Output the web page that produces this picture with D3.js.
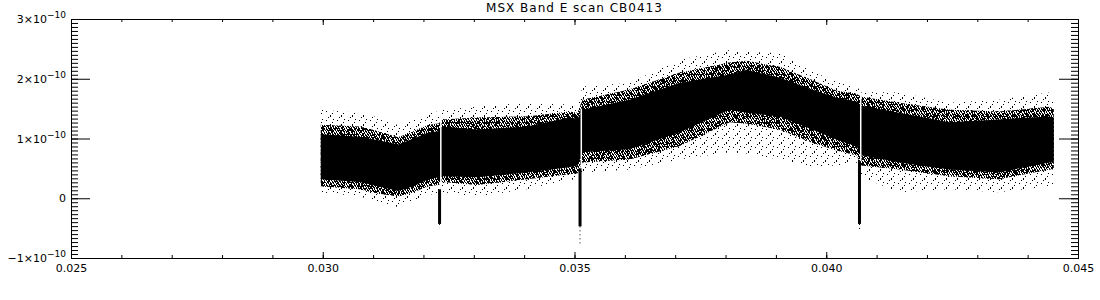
<!DOCTYPE html>
<html>
<head>
<meta charset="utf-8">
<script src="https://cdn.jsdelivr.net/npm/d3@7"></script>
<style>
  body { margin: 0; background: #fff; }
  svg { display: block; font-family: "DejaVu Sans", sans-serif; }
</style>
</head>
<body>
<svg width="1100" height="300"></svg>
<script>
// Valores (fluxo em unidades de 1e-10)
var unit = 1e-10;

var scanX    = [0.02996, 0.03073, 0.03110, 0.03150, 0.03180, 0.03210, 0.03230, 0.03238, 0.03306, 0.03405,
                0.03490, 0.03506, 0.03516, 0.03609, 0.03708, 0.03808, 0.03841, 0.03907, 0.03972, 0.04021,
                0.04060, 0.04070, 0.04145, 0.04244, 0.04343, 0.04443, 0.04452];
var outerHi  = [1.48, 1.43, 1.35, 1.22, 1.30, 1.43, 1.45, 1.48, 1.53, 1.60,
                1.57, 1.55, 1.87, 1.93, 2.32, 2.48, 2.45, 2.43, 2.12, 1.95,
                1.87, 1.78, 1.77, 1.60, 1.65, 1.77, 1.70];
var fringeHi = [1.23, 1.20, 1.12, 1.02, 1.12, 1.23, 1.25, 1.32, 1.35, 1.37,
                1.45, 1.43, 1.65, 1.82, 2.10, 2.27, 2.30, 2.20, 1.98, 1.80,
                1.75, 1.70, 1.60, 1.48, 1.45, 1.53, 1.50];
var coreHi   = [1.07, 1.03, 0.97, 0.90, 1.00, 1.10, 1.12, 1.20, 1.15, 1.20,
                1.35, 1.33, 1.48, 1.65, 1.93, 2.07, 2.15, 2.02, 1.82, 1.68,
                1.62, 1.55, 1.43, 1.27, 1.32, 1.37, 1.35];
var coreLo   = [0.32, 0.27, 0.20, 0.12, 0.20, 0.32, 0.35, 0.37, 0.35, 0.43,
                0.52, 0.55, 0.77, 0.82, 1.10, 1.48, 1.43, 1.37, 1.15, 0.98,
                0.87, 0.72, 0.60, 0.48, 0.43, 0.60, 0.60];
var fringeLo = [0.20, 0.15, 0.08, 0.03, 0.10, 0.20, 0.22, 0.27, 0.22, 0.32,
                0.40, 0.42, 0.60, 0.65, 0.87, 1.27, 1.25, 1.15, 0.93, 0.80,
                0.72, 0.55, 0.48, 0.37, 0.32, 0.48, 0.48];
var outerLo  = [0.10, 0.03, -0.05, -0.15, -0.05, 0.07, 0.05, 0.10, 0.03, 0.15,
                0.32, 0.30, 0.43, 0.48, 0.65, 0.77, 0.75, 0.65, 0.53, 0.55,
                0.60, 0.35, 0.10, 0.15, 0.10, 0.20, 0.25];

// quedas estreitas (dips) no sinal
var dipX    = [0.03232, 0.03511, 0.04066];
var dipTop  = [0.15, 0.50, 0.62];
var dipLo   = [-0.43, -0.47, -0.43];
var dipTail = [-0.50, -0.80, -0.55];
var gapHi   = [1.50, 1.50, 1.82];

// eixos
var xTicks = [0.025, 0.030, 0.035, 0.040, 0.045];
var xTickLabels = ["0.025", "0.030", "0.035", "0.040", "0.045"];
var yTicks = [-1, 0, 1, 2, 3];
var yTickBase = ["\u22121\u00d710", "0", "1\u00d710", "2\u00d710", "3\u00d710"];
var yTickExp  = ["\u221210", "", "\u221210", "\u221210", "\u221210"];
var title = "MSX Band E scan CB0413";

var margin = {top: 19, right: 22, bottom: 42, left: 71},
    width = 1100 - margin.left - margin.right,
    height = 300 - margin.top - margin.bottom;

var x = d3.scaleLinear().domain([0.025, 0.045]).range([0, width]);
var y = d3.scaleLinear().domain([-1 * unit, 3 * unit]).range([height, 0]);

var svg = d3.select("svg")
  .append("g")
    .attr("transform", "translate(" + margin.left + "," + margin.top + ")");

// padrões de pontos para simular a dispersão (célula: x, y, altura)
var defs = svg.append("defs");
function dotPattern(id, w, h, cells) {
  var p = defs.append("pattern")
      .attr("id", id)
      .attr("patternUnits", "userSpaceOnUse")
      .attr("width", w).attr("height", h);
  p.selectAll("rect").data(cells).enter().append("rect")
      .attr("x", function(d) { return d[0]; })
      .attr("y", function(d) { return d[1]; })
      .attr("width", 1).attr("height", function(d) { return d[2]; })
      .attr("shape-rendering", "crispEdges")
      .style("fill", "#000");
}
dotPattern("sparseA", 7, 6, [[0,1,2],[3,4,1],[5,0,2]]);
dotPattern("sparseB", 11, 9, [[2,2,1],[6,6,2],[9,1,1],[4,8,1],[8,4,1]]);
dotPattern("denseA", 5, 4, [[0,0,2],[2,0,1],[3,1,2],[1,2,2],[4,3,1],[2,3,1]]);
dotPattern("denseB", 8, 7, [[1,0,2],[5,1,2],[3,3,2],[7,4,2],[0,5,2],[6,6,1],[2,6,1],[4,5,2]]);

var band = scanX.map(function(v, i) {
  return {x: v, oh: outerHi[i] * unit, fh: fringeHi[i] * unit, ch: coreHi[i] * unit,
          cl: coreLo[i] * unit, fl: fringeLo[i] * unit, ol: outerLo[i] * unit};
});

function bandArea(lo, hi) {
  return d3.area()
    .x(function(d) { return x(d.x); })
    .y0(function(d) { return y(d[lo]); })
    .y1(function(d) { return y(d[hi]); });
}

// camadas: dispersão externa, franja densa, núcleo sólido
svg.append("path").datum(band).attr("d", bandArea("ol", "oh")).style("fill", "url(#sparseB)");
["sparseA", "denseA", "denseB"].forEach(function(p) {
  svg.append("path").datum(band).attr("d", bandArea("fl", "fh")).style("fill", "url(#" + p + ")");
});
svg.append("path").datum(band).attr("d", bandArea("cl", "ch")).style("fill", "#000");

// dips
var dips = dipX.map(function(v, i) {
  return {x: v, top: dipTop[i] * unit, lo: dipLo[i] * unit, tail: dipTail[i] * unit, gap: gapHi[i] * unit};
});
svg.selectAll(".gap").data(dips).enter().append("rect")
    .attr("class", "gap")
    .attr("x", function(d) { return x(d.x) + 0.5; })
    .attr("width", 1.5)
    .attr("y", function(d) { return y(d.gap); })
    .attr("height", function(d) { return y(d.top) - y(d.gap); })
    .style("fill", "#fff");
svg.selectAll(".dip").data(dips).enter().append("rect")
    .attr("class", "dip")
    .attr("x", function(d) { return x(d.x) - 1.5; })
    .attr("width", 3)
    .attr("y", function(d) { return y(d.top); })
    .attr("height", function(d) { return y(d.lo) - y(d.top); })
    .style("fill", "#000");
svg.selectAll(".tail").data(dips).enter().append("line")
    .attr("class", "tail")
    .attr("x1", function(d) { return x(d.x); })
    .attr("x2", function(d) { return x(d.x); })
    .attr("y1", function(d) { return y(d.lo); })
    .attr("y2", function(d) { return y(d.tail); })
    .style("stroke", "#000")
    .style("stroke-dasharray", "1,3");

// eixos (ticks para dentro, estilo IDL)
var xMinor = d3.range(0.025, 0.0451, 0.001);
var yMinor = d3.range(-1, 3.001, 1 / 15).map(function(v) { return v * unit; });
var yMajor = yTicks.map(function(v) { return v * unit; });

function drawAxis(axis, tr) {
  var g = svg.append("g").attr("transform", tr).call(axis);
  g.selectAll("line").style("stroke", "#000");
  g.select(".domain").style("stroke", "#000");
  return g;
}

drawAxis(d3.axisBottom(x).tickValues(xMinor).tickSize(-3).tickFormat(""), "translate(0," + height + ")");
drawAxis(d3.axisTop(x).tickValues(xMinor).tickSize(-3).tickFormat(""), "translate(0,0)");
drawAxis(d3.axisTop(x).tickValues(xTicks).tickSize(-6).tickFormat(""), "translate(0,0)");
var xb = drawAxis(d3.axisBottom(x).tickValues(xTicks).tickSize(-6).tickPadding(6)
    .tickFormat(function(d, i) { return xTickLabels[i]; }), "translate(0," + height + ")");
xb.selectAll("text").style("font-size", "11px").style("fill", "#000").style("font-family", "DejaVu Sans");

drawAxis(d3.axisLeft(y).tickValues(yMinor).tickSize(-7).tickFormat(""), "translate(0,0)");
drawAxis(d3.axisLeft(y).tickValues(yMajor).tickSize(-19).tickFormat(""), "translate(0,0)");
drawAxis(d3.axisRight(y).tickValues(yMinor).tickSize(-7).tickFormat(""), "translate(" + width + ",0)");
drawAxis(d3.axisRight(y).tickValues(yMajor).tickSize(-19).tickFormat(""), "translate(" + width + ",0)");

// rótulos do eixo y com expoente
var yl = svg.selectAll(".ylab").data(yMajor).enter().append("text")
    .attr("class", "ylab")
    .attr("x", -5)
    .attr("y", function(d) { return y(d) + 4; })
    .attr("text-anchor", "end")
    .style("font-size", "11px");
yl.append("tspan").text(function(d, i) { return yTickBase[i]; });
yl.append("tspan")
    .attr("dy", -5)
    .style("font-size", "9px")
    .text(function(d, i) { return yTickExp[i]; });

// título
svg.append("text")
    .attr("x", width / 2)
    .attr("y", -7)
    .attr("text-anchor", "middle")
    .style("font-size", "12px")
    .style("letter-spacing", "1px")
    .text(title);
</script>
</body>
</html>
